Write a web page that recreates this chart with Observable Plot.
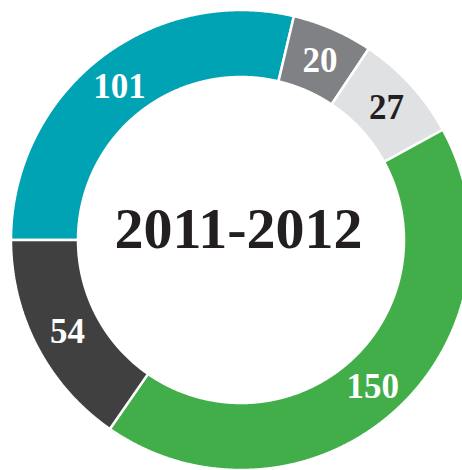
<!DOCTYPE html>
<html>
<head>
<meta charset="utf-8">
<script src="https://cdn.jsdelivr.net/npm/d3@7"></script>
<script src="https://cdn.jsdelivr.net/npm/@observablehq/plot@0.6"></script>
<style>
  html, body { margin: 0; padding: 0; background: #fff; }
  #chart svg { display: block; }
</style>
</head>
<body>
<div id="chart"></div>
<script>
// ---- data ----
const categories = ["A", "B", "C", "D", "E"];
const values = [101, 20, 27, 150, 54];
const centerLabel = "2011-2012";

// ---- styling options ----
const colors = ["#00A3B3", "#808184", "#E0E1E3", "#41AE4A", "#404040"];
const darkLabelCategories = ["C"];
const W = 462, H = 470;
const cxPx = 241, cyPx = 240, Rpx = 230;   // layout of the ring in pixels
const inner = 163 / 230;                    // inner radius relative to outer

const data = categories.map((category, i) => ({category, value: values[i]}));
const pie = d3.pie().value(d => d.value).sort(null)
  .startAngle(-Math.PI / 2).endAngle(1.5 * Math.PI);
const arcs = pie(data);

// geometric outline of each ring sector (for drawing arcs through Plot.area)
const step = Math.PI / 720;
const rows = [];
for (const a of arcs) {
  const n = Math.max(2, Math.ceil((a.endAngle - a.startAngle) / step));
  for (let k = 0; k <= n; k++) {
    const t = a.startAngle + (a.endAngle - a.startAngle) * k / n;
    rows.push({
      category: a.data.category,
      x1: Math.sin(t), y1: Math.cos(t),
      x2: inner * Math.sin(t), y2: inner * Math.cos(t)
    });
  }
}
const rMid = (1 + inner) / 2;
const labels = arcs.map(a => {
  const t = (a.startAngle + a.endAngle) / 2;
  return {category: a.data.category, text: String(a.data.value),
          x: rMid * Math.sin(t), y: rMid * Math.cos(t)};
});

const font = "'Liberation Serif', 'Times New Roman', serif";

const plot = Plot.plot({
  width: W,
  height: H,
  margin: 0,
  x: {domain: [-cxPx / Rpx, (W - cxPx) / Rpx], axis: null},
  y: {domain: [-(H - cyPx) / Rpx, cyPx / Rpx], axis: null},
  color: {domain: categories, range: colors},
  style: {background: "#fff", fontFamily: font},
  marks: [
    Plot.area(rows, {
      x1: "x1", y1: "y1", x2: "x2", y2: "y2",
      z: "category", fill: "category",
      stroke: "#fff", strokeWidth: 2.5, strokeLinejoin: "miter", curve: "linear"
    }),
    Plot.text(labels.filter(d => !darkLabelCategories.includes(d.category)), {
      x: "x", y: "y", text: "text", fill: "#fff",
      fontSize: 35, fontWeight: "bold", fontFamily: font
    }),
    Plot.text(labels.filter(d => darkLabelCategories.includes(d.category)), {
      x: "x", y: "y", text: "text", fill: "#231F20",
      fontSize: 35, fontWeight: "bold", fontFamily: font
    }),
    Plot.text([centerLabel], {
      x: () => 0, y: () => 0, text: d => d, dx: -3, dy: -11,
      fill: "#231F20", fontSize: 58, fontWeight: "bold", fontFamily: font
    })
  ]
});
document.getElementById("chart").append(plot);
</script>
</body>
</html>
